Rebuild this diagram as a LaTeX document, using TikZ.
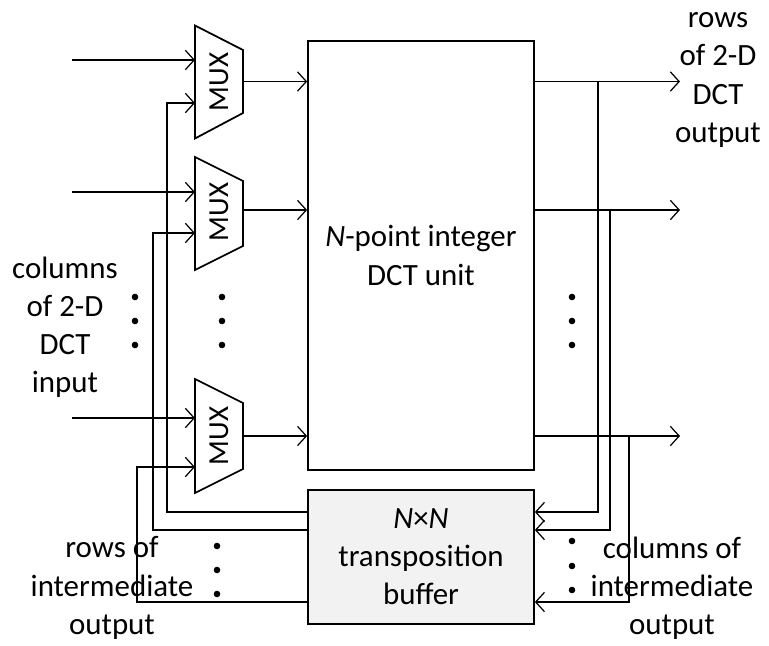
\documentclass[tikz,border=0pt]{standalone}
\usepackage{fontspec}
\setmainfont{Carlito}
\usepackage{tikz}
\usetikzlibrary{
    arrows.meta,
    calc,
    positioning
}
\definecolor{bufgray}{HTML}{F2F2F2}

\begin{document}
\begin{tikzpicture}[x=0.02cm, y=-0.02cm,
    wire/.style={line width=0.7pt},
    arr/.style={wire, -{Straight Barb[length=5pt,width=11pt]}},
    block/.style={draw, line width=1pt, inner sep=0pt, align=center,
        font=\fontsize{17.6}{21.7}\selectfont},
    muxbox/.style={draw, line width=1pt, line join=miter},
    muxtext/.style={rotate=90, font=\fontsize{16.5}{20}\selectfont},
    lbl/.style={align=center, font=\fontsize{17.6}{21.7}\selectfont}
]

\useasboundingbox (0,0) rectangle (769,646);

% DCT unit
\node[block, minimum width=4.52cm, minimum height=8.58cm] (dct) at (421,255.5)
    {\textit{N}-point integer\\DCT unit};

% Transposition buffer
\node[block, fill=bufgray, minimum width=4.52cm, minimum height=2.68cm] (buf) at (421,557)
    {\textit{N}×\textit{N}\\transposition\\buffer};

% MUX 1
\draw[muxbox] (195,25.5) -- (243,50) -- (243,113) -- (195,138.5) -- cycle;
\node[muxtext] (mux1) at (219,82) {MUX};
\coordinate (mux1a) at (195,60);
\coordinate (mux1b) at (195,103);
\coordinate (mux1o) at (243,81.5);

% MUX 2
\draw[muxbox] (195,157) -- (243,181) -- (243,246) -- (195,270) -- cycle;
\node[muxtext] (mux2) at (219,212) {MUX};
\coordinate (mux2a) at (195,192);
\coordinate (mux2b) at (195,233);
\coordinate (mux2o) at (243,210);

% MUX 3
\draw[muxbox] (195,379) -- (243,403) -- (243,469) -- (195,493) -- cycle;
\node[muxtext] (mux3) at (219,436) {MUX};
\coordinate (mux3a) at (195,418);
\coordinate (mux3b) at (195,467);
\coordinate (mux3o) at (243,436);

% Inputs
\coordinate (in1) at (72,60);
\coordinate (in2) at (72,192);
\coordinate (in3) at (72,418);
\draw[arr] (in1) -- (mux1a);
\draw[arr] (in2) -- (mux2a);
\draw[arr] (in3) -- (mux3a);

% MUX to DCT unit
\draw[arr] (mux1o) -- (mux1o -| dct.west);
\draw[arr] (mux2o) -- (mux2o -| dct.west);
\draw[arr] (mux3o) -- (mux3o -| dct.west);

% Outputs
\coordinate (out1) at (680,81.5);
\coordinate (out2) at (680,210);
\coordinate (out3) at (680,436);
\draw[arr] (dct.east |- out1) -- (out1);
\draw[arr] (dct.east |- out2) -- (out2);
\draw[arr] (dct.east |- out3) -- (out3);

% Outputs back into the buffer
\coordinate (fbr1) at (598,512);
\coordinate (fbr2) at (610,530);
\coordinate (fbr3) at (629,602);
\draw[arr] (fbr1 |- out1) -- (fbr1) -- (fbr1 -| buf.east);
\draw[arr] (fbr2 |- out2) -- (fbr2) -- (fbr2 -| buf.east);
\draw[arr] (fbr3 |- out3) -- (fbr3) -- (fbr3 -| buf.east);

% Buffer back to the MUXes
\coordinate (fbl1) at (167,512);
\coordinate (fbl2) at (153,530);
\coordinate (fbl3) at (137,602);
\draw[arr] (fbl1 -| buf.west) -- (fbl1) |- (mux1b);
\draw[arr] (fbl2 -| buf.west) -- (fbl2) |- (mux2b);
\draw[arr] (fbl3 -| buf.west) -- (fbl3) |- (mux3b);

% Dots
\fill (135,297) circle (3.3) (135,321) circle (3.3) (135,345) circle (3.3);
\fill (222,297) circle (3.3) (222,321) circle (3.3) (222,345) circle (3.3);
\fill (572,297) circle (3.3) (572,321) circle (3.3) (572,345) circle (3.3);
\fill (217,546) circle (3.3) (217,570) circle (3.3) (217,594) circle (3.3);
\fill (572,541) circle (3.3) (572,566) circle (3.3) (572,590) circle (3.3);

% Labels
\node[lbl] (inlbl) at (65,327) {columns\\of 2-D\\DCT\\input};
\node[lbl] (outlbl) at (718,80) {rows\\of 2-D\\DCT\\output};
\node[lbl] (rowlbl) at (112,588) {rows of\\intermediate\\output};
\node[lbl] (collbl) at (672,588) {columns of\\intermediate\\output};

\end{tikzpicture}
\end{document}
